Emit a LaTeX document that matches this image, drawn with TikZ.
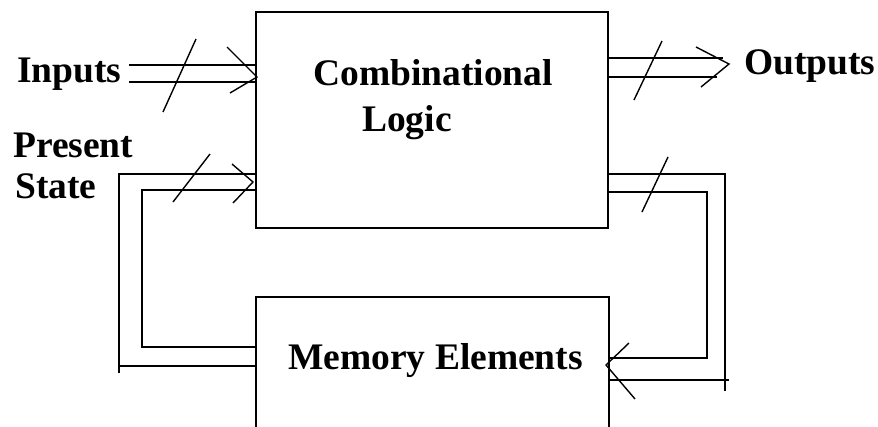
\documentclass[tikz,border=0pt]{standalone}
\usepackage{fontspec}
\setmainfont{Liberation Serif}

\tikzset{
  block/.style={draw, line width=2pt, inner sep=0pt},
  lbl/.style={font=\bfseries\fontsize{37.5}{45}\selectfont, anchor=base west, inner sep=0pt},
  bus/.style={line width=2pt},
  tip/.style={line width=1.4pt},
  slash/.style={line width=1.4pt},
}

\begin{document}
\begin{tikzpicture}[x=1pt,y=-1pt]
                \useasboundingbox (0,0) rectangle (878,426);
                % --------
                % Blocks
                % --------
                \node[block, minimum width=352pt, minimum height=216pt] at (432,120) (comb) {};
                \node[block, minimum width=353pt, minimum height=166pt] at (432.5,380) (mem) {};

                \node[lbl] at (313,85) (combText) {Combinational};
                \node[lbl] at (362,131) (logicText) {Logic};
                \node[lbl] at (288,369) (memText) {Memory Elements};

                \node[lbl] at (17,82) (inputs) {Inputs};
                \node[lbl] at (744,74) (outputs) {Outputs};
                \node[lbl] at (13,157) (present) {Present};
                \node[lbl] at (15,198) (state) {State};

                % Inputs bus
                \coordinate (inA) at (129,65);
                \coordinate (inB) at (129,82);
                \coordinate (inTip) at (257,77);
                \draw[bus] (inA) -- (inA -| comb.west);
                \draw[bus] (inB) -- (inB -| comb.west);
                \draw[tip] (inTip) ++(-30,-30) -- (inTip) -- ++(-27,16);
                \draw[slash] (163,112) -- (196,39);

                % Outputs bus
                \coordinate (outA) at (723,58);
                \coordinate (outB) at (717,77);
                \coordinate (outTip) at (729,64);
                \draw[bus] (outA -| comb.east) -- (outA);
                \draw[bus] (outB -| comb.east) -- (outB);
                \draw[tip] (outTip) ++(-33,-17) -- (outTip) -- ++(-28,23);
                \draw[slash] (634,100) -- (662,41);

                % Next state: logic -> memory
                \coordinate (nsA) at (725,174);
                \coordinate (nsB) at (707,192);
                \coordinate (nsTip) at (606,365);
                \draw[bus] (nsA -| comb.east) -| (725,391);
                \draw[bus] (729,380) -- (mem.east |- 0,380);
                \draw[bus] (nsB -| comb.east) -| (707,358) -- (mem.east |- 0,358);
                \draw[tip] (nsTip) ++(23,-22) -- (nsTip) -- ++(29,34);
                \draw[slash] (642,212) -- (668,157);

                % Present state: memory -> logic
                \coordinate (psA) at (119,174);
                \coordinate (psB) at (142,190);
                \coordinate (psTip) at (253,182);
                \draw[bus] (psA -| comb.west) -| (119,373);
                \draw[bus] (119,366) -- (mem.west |- 0,366);
                \draw[bus] (psB -| comb.west) -| (142,347) -- (mem.west |- 0,347);
                \draw[tip] (psTip) ++(-21,-18) -- (psTip) -- ++(-20,21);
                \draw[slash] (173,202) -- (210,154);
\end{tikzpicture}
\end{document}
